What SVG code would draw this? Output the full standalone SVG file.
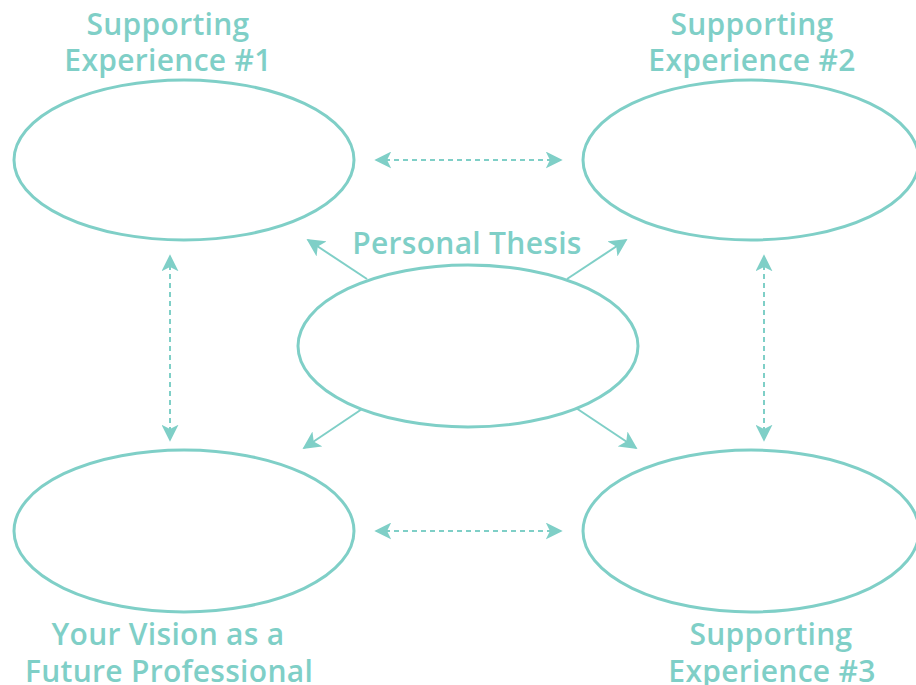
<svg xmlns="http://www.w3.org/2000/svg" width="916" height="685" viewBox="0 0 916 685">
<style>
.node{fill:#fff;stroke:#7fcfc7;stroke-width:3}
.lbl{font-family:"Open Sans","Liberation Sans",sans-serif;font-size:30px;font-weight:600;fill:#7fcfc7;text-anchor:middle;letter-spacing:0.3px}
.dash{stroke:#7fcfc7;stroke-width:2;stroke-dasharray:5,4;fill:none}
.solid{stroke:#7fcfc7;stroke-width:2;fill:none}
</style>
<defs>
<marker id="ah" viewBox="0 0 10 10" refX="9" refY="5" markerWidth="17" markerHeight="17" markerUnits="userSpaceOnUse" orient="auto-start-reverse">
<path d="M0,0 L10,5 L0,10 L2.5,5 Z" fill="#7fcfc7"/>
</marker>
<marker id="ah2" viewBox="0 0 10 10" refX="9" refY="5" markerWidth="18" markerHeight="18" markerUnits="userSpaceOnUse" orient="auto">
<path d="M0,0 L10,5 L0,10 L2.5,5 Z" fill="#7fcfc7"/>
</marker>
</defs>
<g id="connectors">
<line class="dash" x1="376" y1="160" x2="561" y2="160" marker-start="url(#ah)" marker-end="url(#ah)"/>
<line class="dash" x1="376" y1="531" x2="561" y2="531" marker-start="url(#ah)" marker-end="url(#ah)"/>
<line class="dash" x1="170" y1="256" x2="170" y2="440" marker-start="url(#ah)" marker-end="url(#ah)"/>
<line class="dash" x1="764" y1="256" x2="764" y2="440" marker-start="url(#ah)" marker-end="url(#ah)"/>
<line class="solid" x1="367" y1="279" x2="308" y2="240" marker-end="url(#ah2)"/>
<line class="solid" x1="567" y1="279" x2="626" y2="240" marker-end="url(#ah2)"/>
<line class="solid" x1="362" y1="409" x2="304" y2="448" marker-end="url(#ah2)"/>
<line class="solid" x1="576" y1="408" x2="636" y2="448" marker-end="url(#ah2)"/>
</g>
<g id="exp1">
<ellipse class="node" cx="184" cy="160" rx="170" ry="80"/>
<text class="lbl" x="168" y="35">Supporting</text>
<text class="lbl" x="168" y="71">Experience #1</text>
</g>
<g id="exp2">
<ellipse class="node" cx="751" cy="160" rx="168" ry="80"/>
<text class="lbl" x="752" y="35">Supporting</text>
<text class="lbl" x="752" y="71">Experience #2</text>
</g>
<g id="thesis">
<ellipse class="node" cx="468" cy="346" rx="170" ry="81"/>
<text class="lbl" x="467" y="254">Personal Thesis</text>
</g>
<g id="vision">
<ellipse class="node" cx="184" cy="531" rx="170" ry="81"/>
<text class="lbl" x="168" y="645">Your Vision as a</text>
<text class="lbl" x="169" y="682">Future Professional</text>
</g>
<g id="exp3">
<ellipse class="node" cx="751" cy="531" rx="168" ry="81"/>
<text class="lbl" x="771" y="645">Supporting</text>
<text class="lbl" x="772" y="682">Experience #3</text>
</g>
</svg>
